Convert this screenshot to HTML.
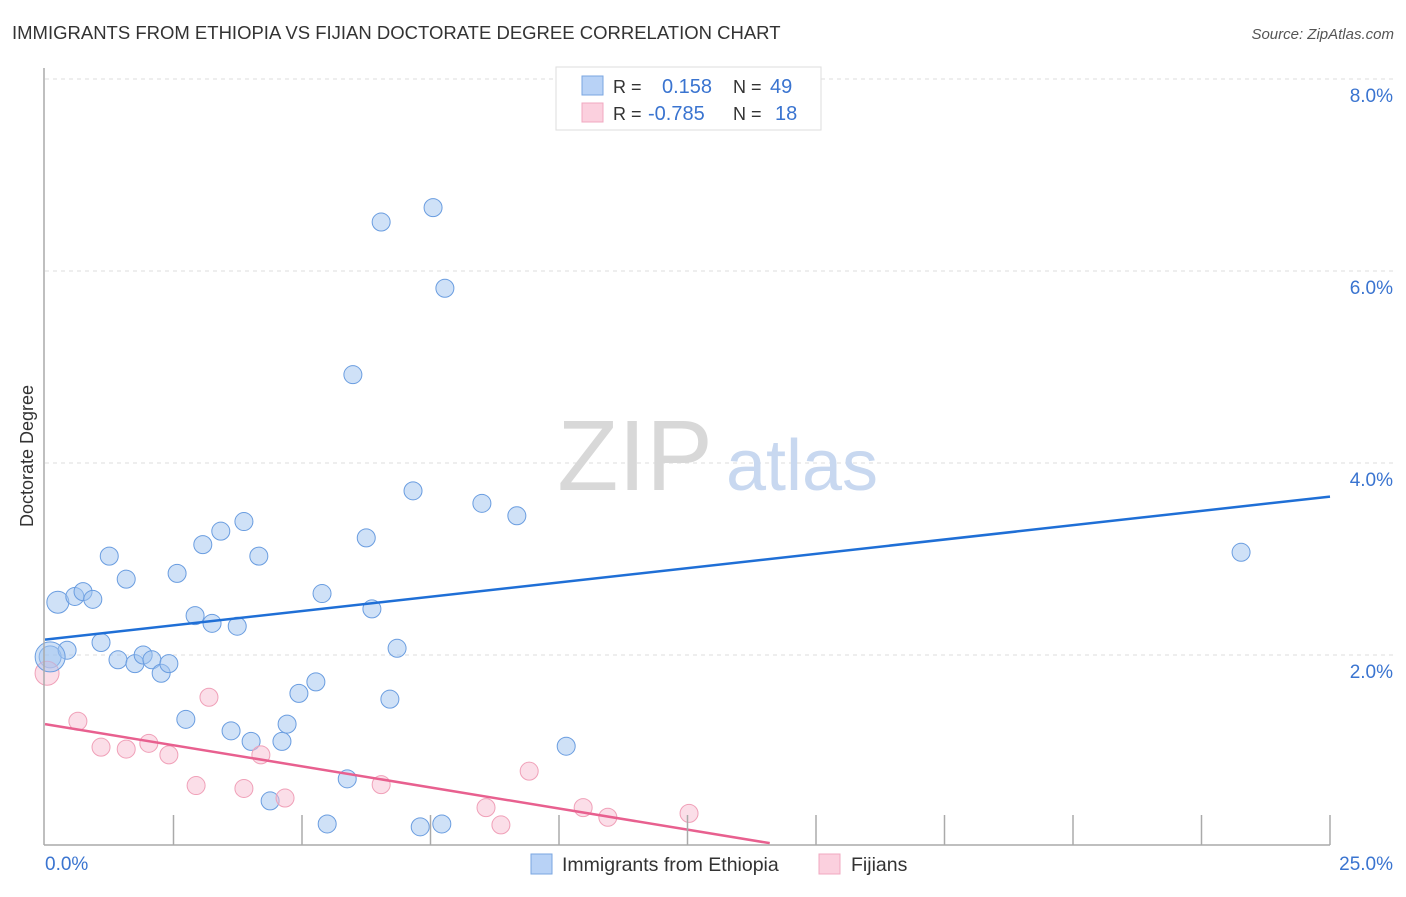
<!DOCTYPE html>
<html><head><meta charset="utf-8"><style>
body{margin:0;background:#fff;font-family:"Liberation Sans",sans-serif}
svg text{font-family:"Liberation Sans",sans-serif}
</style></head><body>
<svg width="1406" height="892" viewBox="0 0 1406 892">
<text x="12" y="39" font-size="18.5" fill="#333">IMMIGRANTS FROM ETHIOPIA VS FIJIAN DOCTORATE DEGREE CORRELATION CHART</text>
<text x="1394" y="39" font-size="15" fill="#555" text-anchor="end" font-style="italic">Source: ZipAtlas.com</text>
<g id="grid"></g>
<text x="635" y="490" font-size="100" fill="#d8d8d8" font-family="Liberation Serif" text-anchor="middle">ZIP</text>
<text x="802" y="490" font-size="72" fill="#c8d8f0" text-anchor="middle">atlas</text>
<g id="pts"></g>
<g id="lines"></g>
<line x1="44" y1="68" x2="44" y2="845" stroke="#aaa" stroke-width="1.5"/>
<line x1="44" y1="845" x2="1330" y2="845" stroke="#aaa" stroke-width="1.5"/>
<g id="ticks"></g>
<text x="45" y="870" font-size="19" fill="#3a74d0">0.0%</text>
<text x="1393" y="870" font-size="19" fill="#3a74d0" text-anchor="end">25.0%</text>
<text transform="translate(33,456) rotate(-90)" font-size="18" fill="#333" text-anchor="middle">Doctorate Degree</text>
<g>
<rect x="556" y="67" width="265" height="63" fill="#fff" stroke="#ddd"/>
<rect x="582" y="76" width="21" height="19" fill="#b8d2f6" stroke="#7aa6e0"/>
<rect x="582" y="103" width="21" height="19" fill="#fbd0de" stroke="#f0a8c0"/>
<text x="613" y="93" font-size="18" fill="#333">R =</text>
<text x="662" y="93" font-size="20" fill="#3a74d0">0.158</text>
<text x="733" y="93" font-size="18" fill="#333">N =</text>
<text x="770" y="93" font-size="20" fill="#3a74d0">49</text>
<text x="613" y="120" font-size="18" fill="#333">R =</text>
<text x="648" y="120" font-size="20" fill="#3a74d0">-0.785</text>
<text x="733" y="120" font-size="18" fill="#333">N =</text>
<text x="775" y="120" font-size="20" fill="#3a74d0">18</text>
</g>
<g>
<rect x="531" y="854" width="21" height="20" fill="#b8d2f6" stroke="#7aa6e0"/>
<text x="562" y="871" font-size="19.5" fill="#333">Immigrants from Ethiopia</text>
<rect x="819" y="854" width="21" height="20" fill="#fbd0de" stroke="#f0a8c0"/>
<text x="851" y="871" font-size="19.5" fill="#333">Fijians</text>
</g>
</svg>
<script>
const blueX=[0.10,0.25,0.43,0.58,0.74,0.93,1.09,1.25,1.42,1.58,1.75,1.91,2.08,2.26,2.41,2.57,2.74,2.92,3.07,3.25,3.42,3.62,3.74,3.87,4.01,4.16,4.38,4.61,4.71,4.94,5.27,5.39,5.49,5.88,5.99,6.25,6.36,6.54,6.71,6.85,7.16,7.30,7.55,7.72,7.78,8.50,9.18,10.14,23.27];
const blueY=[1.98,2.55,2.05,2.61,2.66,2.58,2.13,3.03,1.95,2.79,1.91,2.00,1.95,1.81,1.91,2.85,1.33,2.41,3.15,2.33,3.29,1.21,2.30,3.39,1.10,3.03,0.48,1.10,1.28,1.60,1.72,2.64,0.24,0.71,4.92,3.22,2.48,6.51,1.54,2.07,3.71,0.21,6.66,0.24,5.82,3.58,3.45,1.05,3.07];
const pinkX=[0.04,0.64,1.09,1.58,2.02,2.41,2.94,3.19,3.87,4.20,4.67,6.54,8.58,8.87,9.42,10.47,10.95,12.53];
const pinkY=[1.81,1.31,1.04,1.02,1.08,0.96,0.64,1.56,0.61,0.96,0.51,0.65,0.41,0.23,0.79,0.41,0.31,0.35];
const blueTrend=[2.16,3.65];
const pinkTrend=[1.28,0.04,14.1];
const yTicks=[2,4,6,8];
const yTickLabels=["2.0%","4.0%","6.0%","8.0%"];
const xTicks=[2.5,5,7.5,10,12.5,15,17.5,20,22.5,25];
const NS='http://www.w3.org/2000/svg';
const sx=v=>45+v/25*1285, sy=v=>847-v*96;
function mk(t,a,p){const e=document.createElementNS(NS,t);for(const k in a)e.setAttribute(k,a[k]);p.appendChild(e);return e;}
const grid=document.getElementById('grid');
yTicks.forEach((v,i)=>{
 const l=mk('line',{x1:45,x2:1394,y1:sy(v),y2:sy(v),stroke:'#ddd','stroke-dasharray':'4,4'},grid);
 
 
 const t=mk('text',{x:1393,y:sy(v)+23,'font-size':19,fill:'#3a74d0','text-anchor':'end'},grid);
 t.textContent=yTickLabels[i];
 
 
});
const ticks=document.getElementById('ticks');
xTicks.forEach(v=>{
 const l=mk('line',{x1:sx(v),x2:sx(v),y1:815,y2:845,stroke:'#aaa','stroke-width':1.5},ticks);
 
 
});
const pts=document.getElementById('pts');
blueX.forEach((x,i)=>{
 const r=(i<2)?11:9;
 const c=mk('circle',{cx:sx(x),cy:sy(blueY[i]),r:r,fill:'rgba(160,196,240,0.5)',stroke:'#6a9de0','stroke-width':1},pts);
 
 
});
pinkX.forEach((x,i)=>{
 const r=(i===0)?12:9;
 const c=mk('circle',{cx:sx(x),cy:sy(pinkY[i]),r:r,fill:'rgba(248,190,210,0.5)',stroke:'#f0a0b8','stroke-width':1},pts);
 
 
});
const bigB=mk('circle',{cx:sx(0.1),cy:sy(1.98),r:15,fill:'rgba(160,196,240,0.5)',stroke:'#6a9de0'},pts);


const lines=document.getElementById('lines');
const bl=mk('line',{x1:sx(0),y1:sy(blueTrend[0]),x2:sx(25),y2:sy(blueTrend[1]),stroke:'#1f6fd6','stroke-width':2.5},lines);


const pl=mk('line',{x1:sx(0),y1:sy(pinkTrend[0]),x2:sx(pinkTrend[2]),y2:sy(pinkTrend[1]),stroke:'#e8608f','stroke-width':2.5},lines);


</script>
</body></html>
